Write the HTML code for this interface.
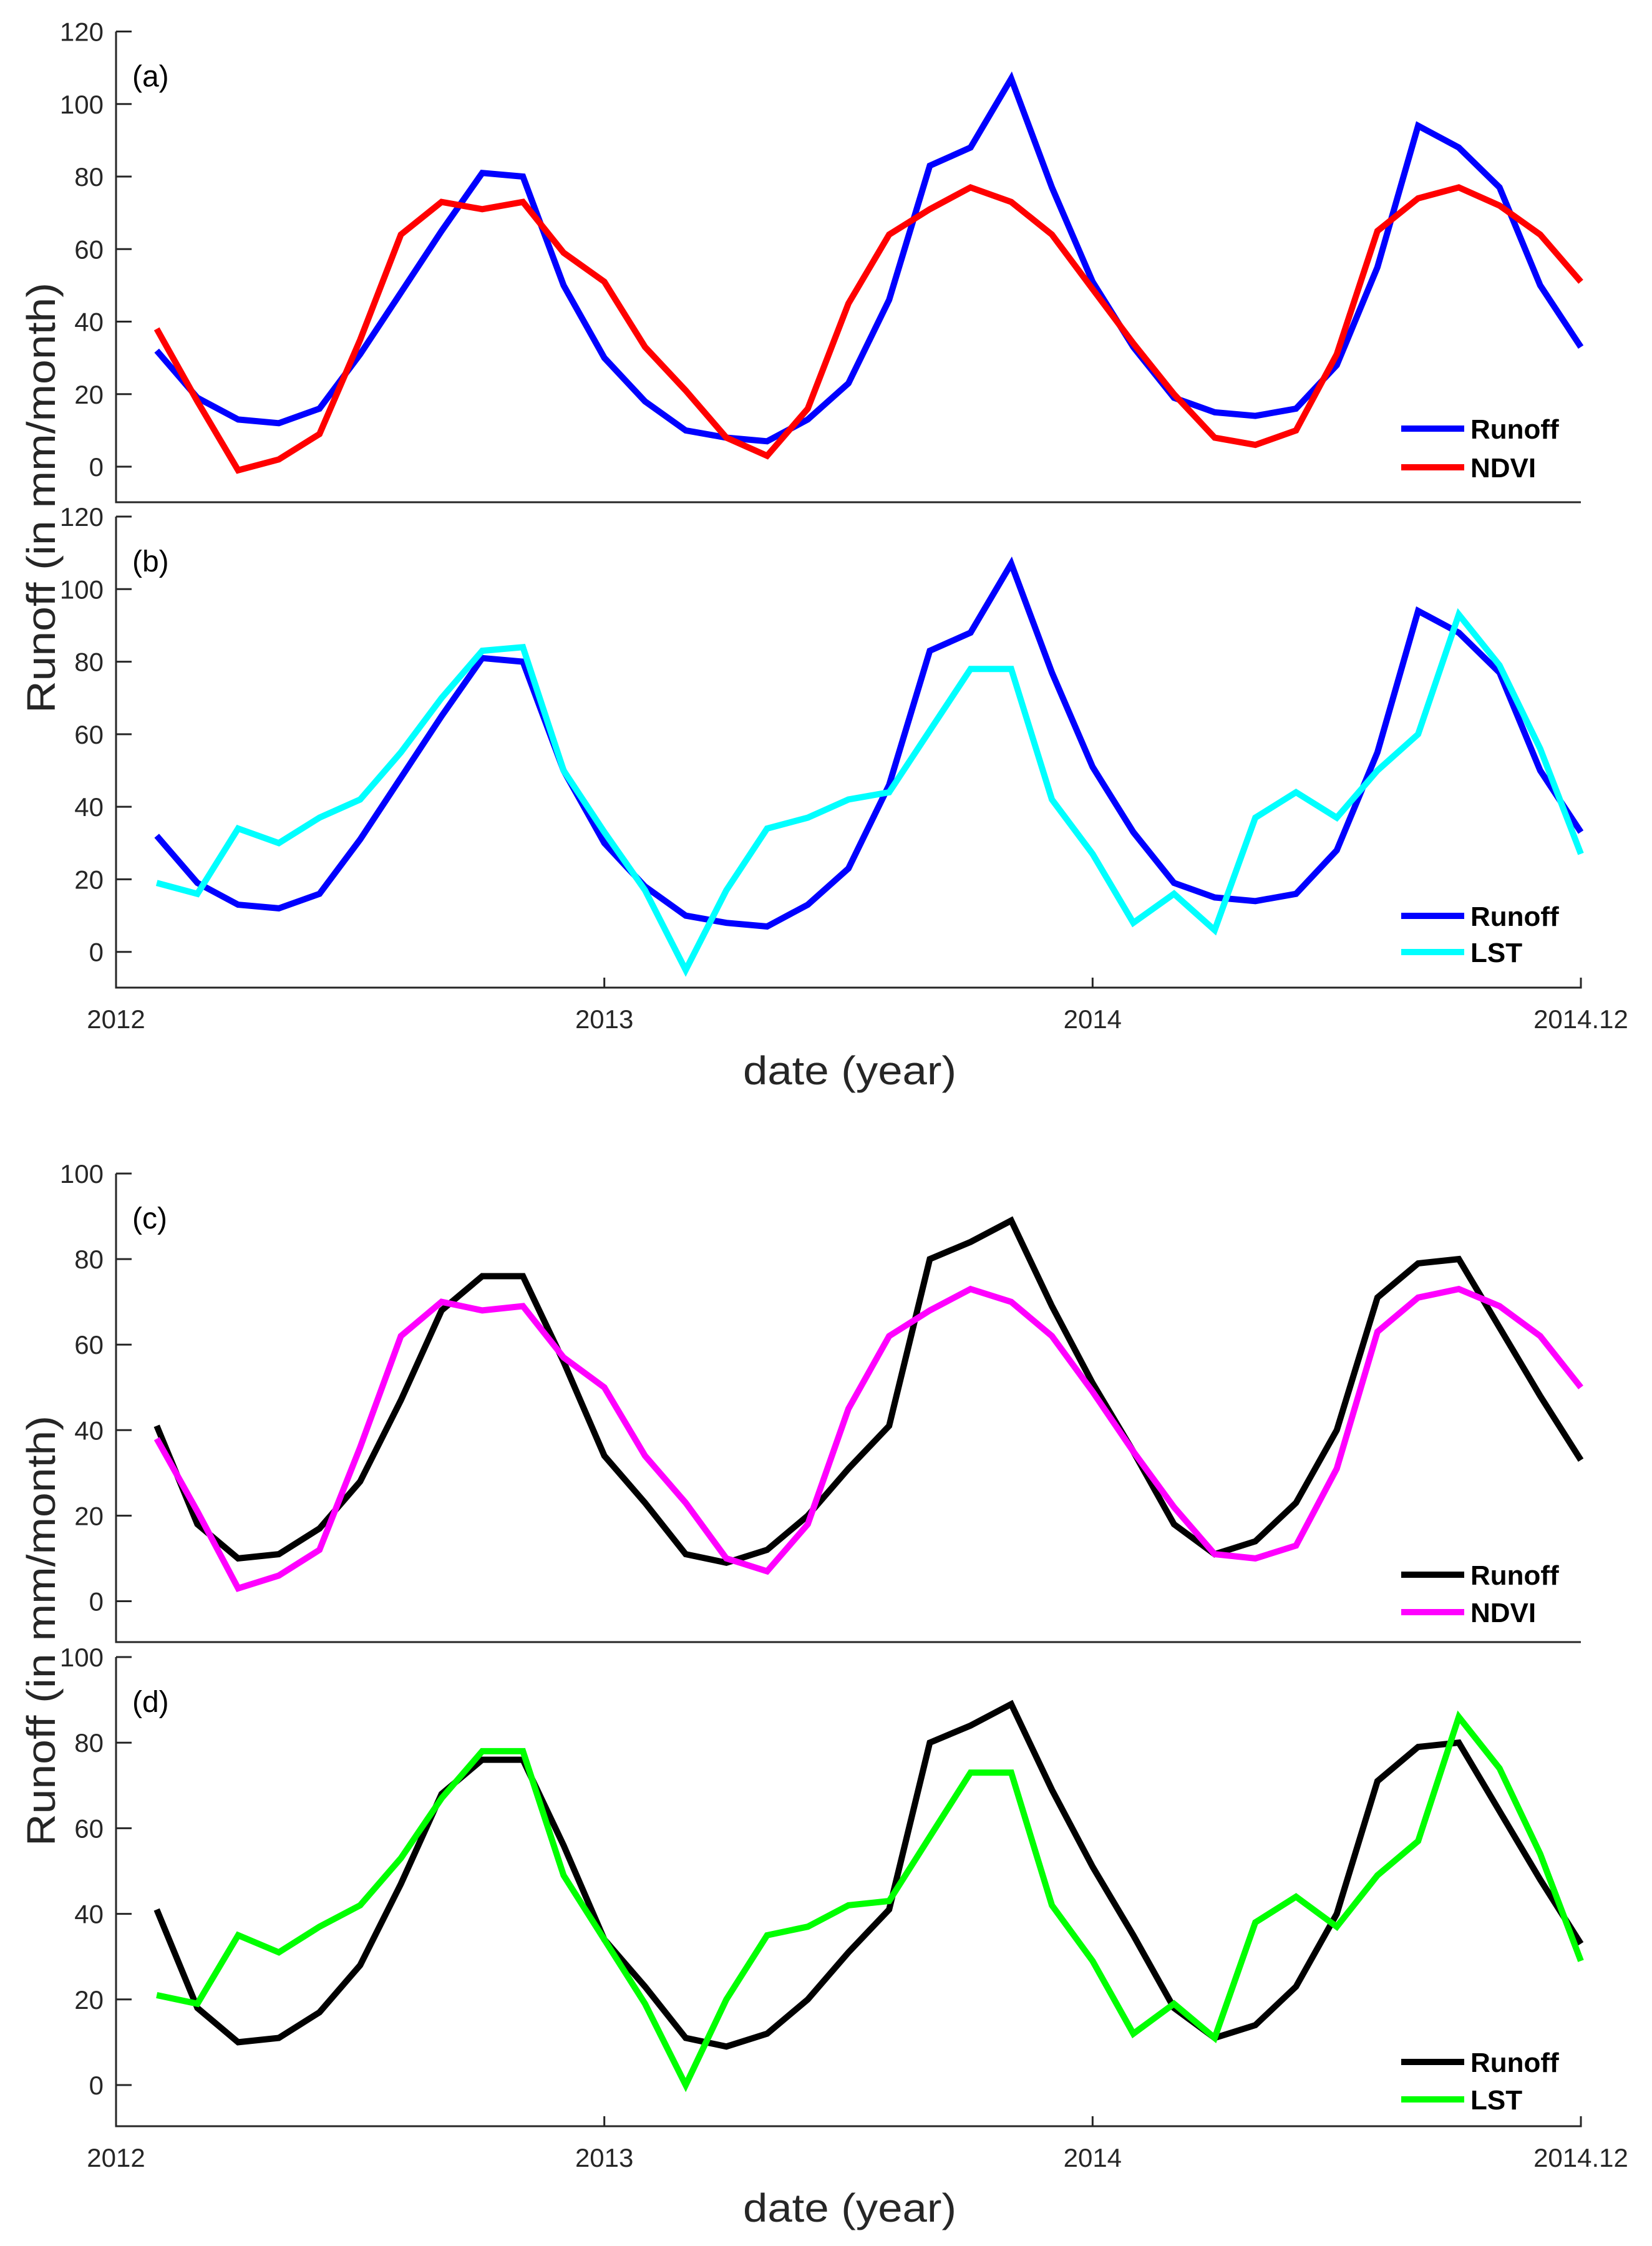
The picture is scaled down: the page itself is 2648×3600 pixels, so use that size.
<!DOCTYPE html>
<html><head><meta charset="utf-8"><style>
html,body{margin:0;padding:0;background:#fff}
svg{display:block}
text{font-family:"Liberation Sans",Arial,sans-serif}
</style></head><body>
<svg id="fig" width="2648" height="3600" viewBox="0 0 2648 3600" xmlns="http://www.w3.org/2000/svg">
<text x="0" y="0" transform="translate(88,798) rotate(-90)" text-anchor="middle" font-size="64" fill="#262626" textLength="690" lengthAdjust="spacingAndGlyphs">Runoff (in mm/month)</text>
<text x="1362" y="1738" text-anchor="middle" font-size="64" fill="#262626" textLength="342" lengthAdjust="spacingAndGlyphs">date (year)</text>
<text x="0" y="0" transform="translate(88,2614) rotate(-90)" text-anchor="middle" font-size="64" fill="#262626" textLength="690" lengthAdjust="spacingAndGlyphs">Runoff (in mm/month)</text>
<text x="1362" y="3561" text-anchor="middle" font-size="64" fill="#262626" textLength="342" lengthAdjust="spacingAndGlyphs">date (year)</text>
</svg>
<script>
const months = [1,2,3,4,5,6,7,8,9,10,11,12,13,14,15,16,17,18,19,20,21,22,23,24,25,26,27,28,29,30,31,32,33,34,35,36];
const xTickLabels = ["2012","2013","2014","2014.12"];
const xTickMonths = [0,12,24,36];
const yTicksAB = [0,20,40,60,80,100,120];
const yTicksCD = [0,20,40,60,80,100];
const runoffAB = [32,19,13,12,16,31,48,65,81,80,50,30,18,10,8,7,13,23,46,83,88,107,77,51,33,19,15,14,16,28,55,94,88,77,50,33];
const ndviA = [38,18,-1,2,9,35,64,73,71,73,59,51,33,21,8,3,16,45,64,71,77,73,64,49,34,20,8,6,10,31,65,74,77,72,64,51];
const lstB = [19,16,34,30,37,42,55,70,83,84,50,33,17,-5,17,34,37,42,44,61,78,78,42,27,8,16,6,37,44,37,50,60,93,79,56,27];
const runoffCD = [41,18,10,11,17,28,47,68,76,76,56,34,23,11,9,12,20,31,41,80,84,89,69,51,35,18,11,14,23,40,71,79,80,64,48,33];
const ndviC = [38,21,3,6,12,36,62,70,68,69,57,50,34,23,10,7,18,45,62,68,73,70,62,49,35,22,11,10,13,31,63,71,73,69,62,50];
const lstD = [21,19,35,31,37,42,53,67,78,78,49,34,19,0,20,35,37,42,43,58,73,73,42,29,12,19,11,38,44,37,49,57,86,74,54,29];

const NS = "http://www.w3.org/2000/svg";
const svg = document.getElementById('fig');
const X0 = 186, X1 = 2534;
function xs(m){ return X0 + (X1 - X0) * m / 36; }
function mk(tag, attrs, parent){
  const e = document.createElementNS(NS, tag);
  for (const k in attrs) e.setAttribute(k, attrs[k]);
  (parent || svg).appendChild(e);
  return e;
}
function panel(p){
  const g = mk('g', {});
  
  
  const ys = v => p.y0 + (p.yTop - p.y0) * v / p.vmax;
  const ax = mk('path', {d:`M${X0},${ys(p.vmax)} V${p.bottom} H${X1}` + (p.xlabels ? ` V${p.bottom-16}` : ''), fill:'none', stroke:'#262626', 'stroke-width':3}, g);
  
  
  p.ticks.forEach(v => {
    const y = ys(v);
    const t = mk('line', {x1:X0, x2:X0+25, y1:y, y2:y, stroke:'#262626', 'stroke-width':3}, g);
    
    
    const l = mk('text', {x:166, y:y+15, 'text-anchor':'end', 'font-size':42, fill:'#262626'}, g);
    
    
    l.textContent = v;
  });
  if (p.xlabels) {
    xTickMonths.forEach((m, i) => {
      const x = xs(m);
      const t = mk('line', {x1:x, x2:x, y1:p.bottom, y2:p.bottom-16, stroke:'#262626', 'stroke-width':3}, g);
      
      
      const l = mk('text', {x:x, y:p.bottom+65, 'text-anchor':'middle', 'font-size':42, fill:'#262626'}, g);
      
      
      l.textContent = xTickLabels[i];
    });
  }
  const lab = mk('text', {x:212, y:ys(p.vmax)+88, 'font-size':48, fill:'#000'}, g);
  
  
  lab.textContent = '(' + p.id + ')';
  p.series.forEach((s, si) => {
    const d = s.vals.map((v, i) => (i ? 'L' : 'M') + xs(months[i]).toFixed(1) + ',' + ys(v).toFixed(1)).join(' ');
    const pl = mk('path', {d:d, fill:'none', stroke:s.color, 'stroke-width':10, 'stroke-linejoin':'miter'}, g);
    
    
    const ly = p.legY[si];
    const ll = mk('line', {x1:2246, x2:2347, y1:ly, y2:ly, stroke:s.color, 'stroke-width':10}, g);
    
    
    const lt = mk('text', {x:2357, y:ly+16, 'font-size':44, 'font-weight':'bold', fill:'#000'}, g);
    
    
    lt.textContent = s.name;
  });
}
panel({id:'a', yTop:50.5, y0:748, vmax:120, bottom:805, ticks:yTicksAB, xlabels:false, legY:[687,749],
  series:[{name:'Runoff', color:'#0000ff', vals:runoffAB},{name:'NDVI', color:'#ff0000', vals:ndviA}]});
panel({id:'b', yTop:828, y0:1525.7, vmax:120, bottom:1583, ticks:yTicksAB, xlabels:true, legY:[1468,1526],
  series:[{name:'Runoff', color:'#0000ff', vals:runoffAB},{name:'LST', color:'#00ffff', vals:lstB}]});
panel({id:'c', yTop:1881, y0:2566.5, vmax:100, bottom:2632, ticks:yTicksCD, xlabels:false, legY:[2524,2584],
  series:[{name:'Runoff', color:'#000000', vals:runoffCD},{name:'NDVI', color:'#ff00ff', vals:ndviC}]});
panel({id:'d', yTop:2656, y0:3342, vmax:100, bottom:3408, ticks:yTicksCD, xlabels:true, legY:[3305,3365],
  series:[{name:'Runoff', color:'#000000', vals:runoffCD},{name:'LST', color:'#00ff00', vals:lstD}]});
</script>
</body></html>
